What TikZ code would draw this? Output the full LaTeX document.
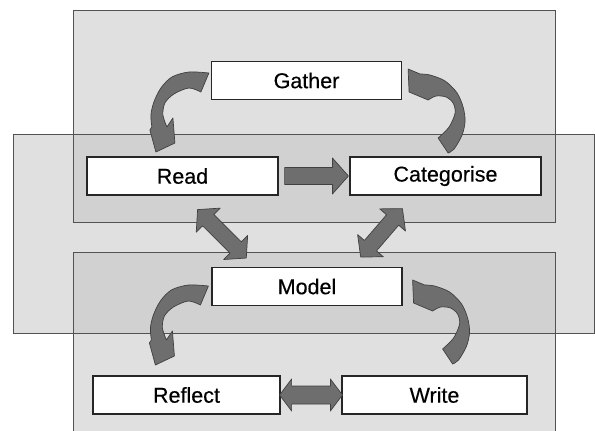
\documentclass[tikz,border=0pt]{standalone}
\usepackage{fontspec}
\setmainfont{Liberation Sans}
\usetikzlibrary{calc}
\definecolor{lay}{gray}{0.88}
\definecolor{laytwo}{gray}{0.82}
\definecolor{edgecol}{gray}{0.32}
\definecolor{arrfill}{gray}{0.43}
\definecolor{arredge}{gray}{0.25}
\tikzset{
  layer/.style={draw=edgecol, line width=0.9pt},
  box/.style={draw=black!85, line width=1.2pt, fill=white, minimum width=190pt,
    minimum height=37.5pt, inner sep=0pt, font=\fontsize{21.5}{24}\selectfont\addfontfeature{FakeBold=0.35}},
  blk/.style={fill=arrfill, draw=arredge, line width=0.7pt, line join=round},
  lcurve/.pic={\draw[blk] plot[smooth] coordinates {(0,0) (-20,-1) (-37,4) (-48,15) (-55,29) (-58,42) (-57,54)}
     -- (-59,57) -- (-53,79) -- (-34,70) -- (-36,45) -- (-42,54)
     -- plot[smooth] coordinates {(-42,54) (-46,42) (-44,30) (-35,21) (-20,15) (-8,19)} -- cycle;},
  rcurve/.pic={\draw[blk] (0,0) -- (1,23) -- (20,31)
     -- plot[smooth] coordinates {(20,31) (28,27) (38,28) (45,34) (47,44) (41,58) (30,69)}
     -- (40,84)
     -- plot[smooth] coordinates {(40,84) (46,80) (54,66) (57,52) (55,38) (49,24) (37,12) (22,6) (12,5)} -- cycle;}
}
\newcommand\arrgeom[2]{%
  \path let \p1=(#1), \p2=(#2) in \pgfextra{%
    \pgfmathsetmacro\tmpang{atan2(\y2-\y1,\x2-\x1)}%
    \pgfmathsetmacro\tmplen{veclen(\x2-\x1,\y2-\y1)}%
    \xdef\arrang{\tmpang}\xdef\arrlen{\tmplen}};}
% double block arrow: from, to, shaft half width, head half width, head length
\newcommand\dblarr[5]{%
  \arrgeom{#1}{#2}%
  \begin{scope}[shift={(#1)}, rotate=\arrang]
    \draw[blk] (0,0) -- (#5,#4) -- (#5,#3) -- (\arrlen-#5,#3) -- (\arrlen-#5,#4) -- (\arrlen,0)
      -- (\arrlen-#5,-#4) -- (\arrlen-#5,-#3) -- (#5,-#3) -- (#5,-#4) -- cycle;
  \end{scope}}
% single block arrow
\newcommand\sglarr[5]{%
  \arrgeom{#1}{#2}%
  \begin{scope}[shift={(#1)}, rotate=\arrang]
    \draw[blk] (0,#3) -- (\arrlen-#5,#3) -- (\arrlen-#5,#4) -- (\arrlen,0)
      -- (\arrlen-#5,-#4) -- (\arrlen-#5,-#3) -- (0,-#3) -- cycle;
  \end{scope}}
\begin{document}
\begin{tikzpicture}[x=1pt, y=-1pt]
\useasboundingbox (0,0) rectangle (595,431);
\clip (0,0) rectangle (595,431);
\fill[white] (0,0) rectangle (595,431);
% background layers
\fill[lay] (73,10) rectangle (555,222);
\fill[lay] (13,134) rectangle (594,333);
\fill[lay] (73,252) rectangle (555,440);
\fill[laytwo] (73,134) rectangle (555,222);
\fill[laytwo] (73,252) rectangle (555,333);
\draw[layer] (73,10) rectangle (555,222);
\draw[layer] (13,134) rectangle (594,333);
\draw[layer] (73,252) rectangle (555,440);
% boxes
\node[box] (gather) at (306.5,80.5) {Gather};
\node[box, minimum width=191pt, minimum height=38pt] (read) at (182.5,176) {Read};
\node[box, minimum width=191pt, minimum height=38pt] (categorise) at (445.5,176) {Categorise};
\node[box] (model) at (307,286.5) {Model};
\node[box, minimum width=187pt, minimum height=38pt] (reflect) at (186.5,395) {Reflect};
\node[box, minimum width=185pt, minimum height=38pt] (write) at (434.5,395) {Write};
% curved arrows
\pic at ($(gather.west)+(-2,-7.5)$) {lcurve};
\pic at ($(model.west)+(-3,-0.5)$) {lcurve};
\pic at ($(gather.east)+(6,-11.5)$) {rcurve};
\pic at ($(model.east)+(10,-6.5)$) {rcurve};
% straight arrows
\coordinate (rcA) at ($(read.east)+(6,0)$);
\coordinate (rcB) at ($(categorise.west)+(-1,0)$);
\sglarr{rcA}{rcB}{8.5}{18}{16}
\coordinate (rwA) at ($(reflect.east)+(-1,0)$);
\coordinate (rwB) at ($(write.west)+(1,0)$);
\dblarr{rwA}{rwB}{9}{16}{12}
\coordinate (rmA) at ($(read.south east)+(-81,14)$);
\coordinate (rmB) at ($(model.north west)+(35,-9)$);
\dblarr{rmA}{rmB}{8}{17}{15}
\coordinate (cmA) at ($(categorise.south west)+(53,13)$);
\coordinate (cmB) at ($(model.north east)+(-42,-10)$);
\dblarr{cmA}{cmB}{8}{17}{15}
\end{tikzpicture}
\end{document}
